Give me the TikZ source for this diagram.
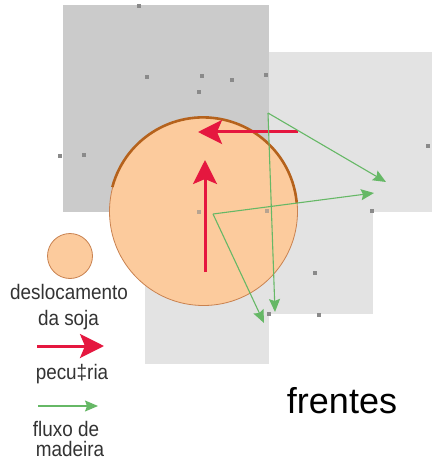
\documentclass[tikz,border=0pt]{standalone}
\usepackage{fontspec}
\setmainfont{Liberation Sans}
\newfontfamily\legfont[FakeStretch=0.9]{Liberation Sans}
\usetikzlibrary{arrows.meta}
\definecolor{darkarea}{HTML}{CBCBCB}
\definecolor{lightarea}{HTML}{E3E3E3}
\definecolor{peach}{HTML}{FCCB9D}
\definecolor{rim}{HTML}{B5621C}
\definecolor{rimthin}{HTML}{C98250}
\definecolor{pecred}{HTML}{E5173F}
\definecolor{woodgreen}{HTML}{66B866}
\definecolor{dotgray}{HTML}{8A8A8A}
\tikzset{
  dot/.style={fill=dotgray, minimum size=3.5pt, inner sep=0pt, draw=none, rectangle},
  redarrow/.style={draw=pecred, line width=3pt, -{Stealth[length=24pt,width=24pt,inset=5pt]}},
  greenarrow/.style={draw=woodgreen, line width=1.1pt, -{Stealth[length=13pt,width=11pt,inset=2pt]}},
  legtext/.style={font=\legfont\fontsize{21}{24}\selectfont, text=black!80, anchor=base, inner sep=0pt},
  sojacircle/.style={circle, fill=peach, draw=rimthin, line width=0.8pt, inner sep=0pt}
}
\begin{document}
\begin{tikzpicture}[x=1pt,y=-1pt]
\useasboundingbox (0,0) rectangle (432,462);
\fill[white] (0,0) rectangle (432,462);
% areas
\fill[lightarea] (269,52) rectangle (432,212);
\fill[lightarea] (269,212) rectangle (373,314);
\fill[lightarea] (145,212) rectangle (269,364);
\fill[darkarea] (63,5) rectangle (269,212);
% dots
\foreach \p [count=\i] in {(139,6),(147,77),(202,76),(232,80),(266,75),(199,92),(60,156),(84,155),(428,146),(372,211),(199,212),(267,211),(315,273),(269,314),(319,315)}
  \node[dot] (d\i) at \p {};
% soja circle
\node[sojacircle, minimum size=188pt] (soja) at (203.5,211.5) {};
\draw[rim, line width=2.6pt] (soja.165) arc[start angle=165, end angle=5, radius=94pt];
% dots visible on the circle
\node[dot, opacity=0.6] (c1) at (199,212) {};
\node[dot, opacity=0.6] (c2) at (267,211) {};
% red arrows
\coordinate (r1s) at (205,272);
\coordinate (r1e) at (205,160);
\coordinate (r2s) at (298,132);
\coordinate (r2e) at (198,132);
\draw[redarrow] (r1s) -- (r1e);
\draw[redarrow] (r2s) -- (r2e);
% green arrows
\coordinate (gA) at (268,113);
\coordinate (gB) at (213,214);
\coordinate (gA1) at (386,182);
\coordinate (gA2) at (275,312);
\coordinate (gB1) at (374,193);
\coordinate (gB2) at (264,323);
\draw[greenarrow] (gA) -- (gA1);
\draw[greenarrow] (gA) -- (gA2);
\draw[greenarrow] (gB) -- (gB1);
\draw[greenarrow] (gB) -- (gB2);
% legend
\node[sojacircle, minimum size=45pt] (legsoja) at (70,256) {};
\node[legtext] (t1) at (69,299) {deslocamento};
\node[legtext] (t2) at (68.5,325) {da soja};
\coordinate (lr1) at (37,346);
\coordinate (lr2) at (104,346);
\draw[redarrow] (lr1) -- (lr2);
\node[legtext] (t3) at (72,379) {pecu‡ria};
\coordinate (lg1) at (38,406);
\coordinate (lg2) at (98,406);
\draw[greenarrow] (lg1) -- (lg2);
\node[legtext] (t4) at (66,436) {fluxo de};
\node[legtext] (t5) at (70,456) {madeira};
\node[anchor=base, inner sep=0pt, font=\fontsize{36}{40}\selectfont] (frentes) at (342,413) {frentes};
\end{tikzpicture}
\end{document}
